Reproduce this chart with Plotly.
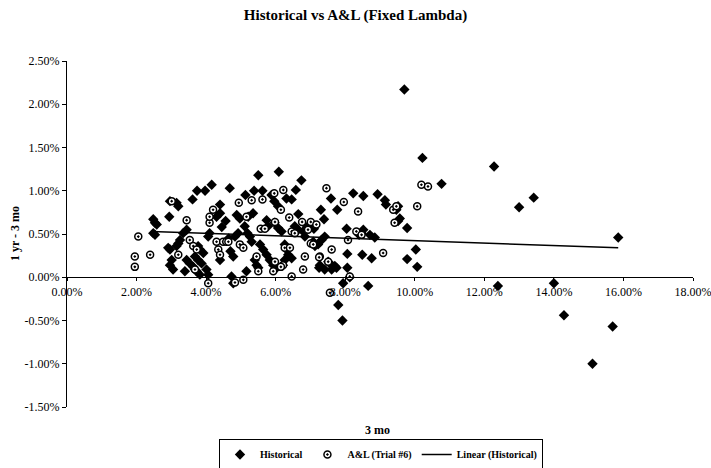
import plotly.graph_objects as go

# ---- data (values in percent) ----
hist_x = [2.48, 2.53, 2.58, 2.48, 2.53, 2.91, 2.96, 2.94, 2.96, 3.15, 3.20, 3.25, 3.20, 3.15, 3.34, 3.44,
          3.61, 3.74, 3.97, 4.16, 4.40, 4.40, 4.30, 4.56, 3.01, 2.96, 3.05, 3.44, 3.53, 3.63, 3.68, 3.73,
          3.82, 3.68, 3.77, 3.87, 4.01, 4.06, 4.40, 3.82, 3.77, 3.92, 3.39, 4.06, 4.10, 4.68, 4.45, 4.65, 4.70,
          5.50, 6.09, 6.74, 5.13, 5.38, 5.62, 5.88, 5.96, 6.07, 6.31, 6.46, 6.58, 7.30, 7.39, 6.65, 7.59,
          5.35, 5.21, 4.97, 4.88, 5.74, 5.97, 6.07, 6.17, 5.11, 5.19, 5.26, 5.31, 4.92, 4.83, 5.78, 6.55,
          6.65, 6.79, 6.84, 7.41, 7.32, 5.55, 5.64, 5.74, 5.83, 5.93, 5.98, 5.40, 5.45, 5.50, 4.78, 5.16,
          6.26, 6.31, 6.36, 6.26, 6.21, 6.46, 7.27, 7.41, 7.51, 4.73, 4.78,
          9.70, 10.22, 7.77, 8.23, 8.52, 8.93, 9.14, 9.17, 9.52, 9.47, 9.57, 9.52, 9.78, 8.04, 8.52, 8.47,
          8.40, 8.71, 8.85, 10.03, 9.78, 10.07, 8.06, 8.49, 8.76, 8.06, 7.70, 7.61, 7.80, 7.92, 7.94, 8.66,
          8.13, 7.13, 7.08, 7.22, 7.25, 7.56, 7.65, 7.75, 6.90, 7.00, 7.10,
          10.77, 12.28, 13.00, 13.42, 15.85, 12.39, 14.00, 14.29, 15.69, 15.11]
hist_y = [0.67, 0.63, 0.61, 0.51, 0.49, 0.34, 0.32, 0.70, 0.88, 0.86, 0.82, 0.43, 0.39, 0.36, 0.51, 0.55,
          0.90, 1.00, 1.00, 1.07, 0.84, 0.74, 0.70, 0.65, 0.20, 0.14, 0.09, 0.20, 0.16, 0.12, 0.09, 0.07,
          0.03, 0.24, 0.20, 0.16, 0.09, 0.03, 0.20, 0.32, 0.36, 0.28, 0.07, 0.47, 0.51, 1.03, 0.58, 0.45, 0.30,
          1.18, 1.22, 1.12, 0.95, 1.00, 1.00, 0.95, 0.88, 0.82, 0.91, 0.90, 1.01, 0.78, 0.67, 0.73, 0.91,
          0.74, 0.70, 0.68, 0.72, 0.66, 0.63, 0.57, 0.53, 0.59, 0.51, 0.47, 0.41, 0.51, 0.47, 0.59, 0.59,
          0.55, 0.53, 0.47, 0.47, 0.43, 0.38, 0.32, 0.26, 0.20, 0.14, 0.09, 0.20, 0.14, 0.11, 0.24, 0.07,
          0.38, 0.32, 0.26, 0.20, 0.14, 0.22, 0.14, 0.09, 0.18, 0.01, -0.07,
          2.17, 1.38, 0.78, 0.97, 0.94, 0.96, 0.89, 0.84, 0.82, 0.78, 0.68, 0.65, 0.57, 0.56, 0.55, 0.51,
          0.49, 0.49, 0.46, 0.32, 0.21, 0.12, 0.27, 0.26, 0.22, 0.11, 0.13, 0.09, -0.32, -0.50, -0.07, -0.10,
          0.00, 0.36, 0.41, 0.38, 0.11, 0.16, 0.12, 0.11, 0.58, 0.60, 0.56,
          1.08, 1.28, 0.81, 0.92, 0.46, -0.10, -0.07, -0.44, -0.57, -1.00]

al_x = [2.05, 1.95, 1.95, 2.39, 3.01, 3.44, 3.53, 3.63, 3.73, 3.20, 4.10, 4.10, 4.20, 4.30, 4.49, 4.58,
        4.35, 4.40, 3.68, 4.06,
        4.94, 5.31, 5.62, 5.96, 6.22, 7.46, 6.15, 6.39, 6.76, 7.01, 7.17, 6.93, 5.98, 5.16, 5.57, 5.69,
        6.46, 6.55, 4.64, 4.97, 5.07, 6.26, 6.41, 7.01, 7.08, 7.61, 5.45, 5.98, 6.21, 6.84, 7.27, 6.79,
        5.50, 5.93, 6.46, 4.83, 5.07, 6.15,
        7.96, 8.37, 9.38, 9.47, 9.42, 10.07, 10.19, 10.38, 8.32, 8.47, 8.08, 9.09, 7.25, 7.51, 8.13, 7.56]
al_y = [0.47, 0.24, 0.12, 0.26, 0.88, 0.66, 0.43, 0.36, 0.32, 0.26, 0.63, 0.70, 0.78, 0.41, 0.41, 0.41,
        0.32, 0.26, 0.09, -0.07,
        0.86, 0.89, 0.90, 0.97, 1.01, 1.03, 0.78, 0.69, 0.64, 0.64, 0.61, 0.55, 0.64, 0.70, 0.56, 0.56,
        0.53, 0.51, 0.41, 0.38, 0.34, 0.34, 0.34, 0.39, 0.38, 0.32, 0.24, 0.18, 0.14, 0.24, 0.24, 0.09,
        0.07, 0.07, 0.01, -0.06, -0.03, 0.12,
        0.87, 0.76, 0.78, 0.82, 0.63, 0.82, 1.07, 1.05, 0.53, 0.49, 0.43, 0.28, 0.23, 0.18, 0.01, -0.18]

trend_x = [2.43, 15.85]
trend_y = [0.53, 0.34]

x_ticks = [0, 2, 4, 6, 8, 10, 12, 14, 16, 18]
y_ticks = [-1.5, -1.0, -0.5, 0.0, 0.5, 1.0, 1.5, 2.0, 2.5]
x_ticktext = [f"{v:.2f}%" for v in x_ticks]
y_ticktext = [f"{v:.2f}%" for v in y_ticks]

SERIF = "Liberation Serif"

# layout geometry (pixels)
W, H = 711, 468
PLOT_L, PLOT_R, PLOT_T, PLOT_B = 67, 693, 61, 407
PAPER_H = H - PLOT_T  # bottom margin 0 -> paper spans to figure bottom


def ypaper(py):
    return (H - py) / PAPER_H


def xpaper(px):
    return (px - PLOT_L) / (PLOT_R - PLOT_L)


y_dom0 = ypaper(PLOT_B)
zero_frac = 1.5 / 4.0
x_axis_pos = y_dom0 + zero_frac * (1 - y_dom0)

fig = go.Figure()
fig.add_trace(go.Scatter(
    x=hist_x, y=hist_y, mode="markers", name="<b>Historical</b>",
    marker=dict(symbol="diamond", size=8, color="black", line=dict(width=0)),
))
fig.add_trace(go.Scatter(
    x=al_x, y=al_y, mode="markers", name="<b>A&L (Trial #6)</b>",
    marker=dict(symbol="circle-dot", size=7, color="white", line=dict(color="black", width=1.5)),
))
fig.add_trace(go.Scatter(
    x=trend_x, y=trend_y, mode="lines", name="<b>Linear (Historical)</b>",
    line=dict(color="black", width=1.5),
))

fig.update_layout(
    width=W, height=H,
    margin=dict(l=PLOT_L, r=W - PLOT_R, t=PLOT_T, b=0, autoexpand=False),
    paper_bgcolor="white", plot_bgcolor="white",
    font=dict(family=SERIF, size=12, color="black"),
    title=dict(text="<b>Historical vs A&L (Fixed Lambda)</b>", x=0.5, xref="container",
               y=1 - 15 / H, yref="container", yanchor="middle", xanchor="center",
               font=dict(family=SERIF, size=15, color="black")),
    showlegend=True,
    legend=dict(orientation="h", x=xpaper(381), xanchor="center", y=ypaper(439), yanchor="top",
                bgcolor="white", bordercolor="black", borderwidth=1,
                font=dict(family=SERIF, size=10, color="black"),
                itemwidth=30, tracegroupgap=0),
    xaxis=dict(range=[0, 18], tickvals=x_ticks, ticktext=x_ticktext,
               showgrid=False, zeroline=False, showline=True, linecolor="black", linewidth=1,
               ticks="outside", ticklen=3, tickcolor="black",
               anchor="free", position=x_axis_pos, ticklabeloverflow="allow",
               tickfont=dict(family=SERIF, size=12, color="black")),
    yaxis=dict(range=[-1.5, 2.5], tickvals=y_ticks, ticktext=y_ticktext, domain=[y_dom0, 1],
               showgrid=False, zeroline=False, showline=True, linecolor="black", linewidth=1,
               ticks="outside", ticklen=4, tickcolor="black",
               tickfont=dict(family=SERIF, size=12, color="black")),
    annotations=[
        dict(text="<b>3 mo</b>", x=xpaper(377), xref="paper", y=ypaper(430), yref="paper",
             showarrow=False, xanchor="center", yanchor="middle",
             font=dict(family=SERIF, size=12, color="black")),
        dict(text="<b>1 yr - 3 mo</b>", x=xpaper(15), xref="paper", y=ypaper(234), yref="paper",
             showarrow=False, textangle=-90, xanchor="center", yanchor="middle",
             font=dict(family=SERIF, size=12, color="black")),
    ],
)

fig.write_html("out.html")
